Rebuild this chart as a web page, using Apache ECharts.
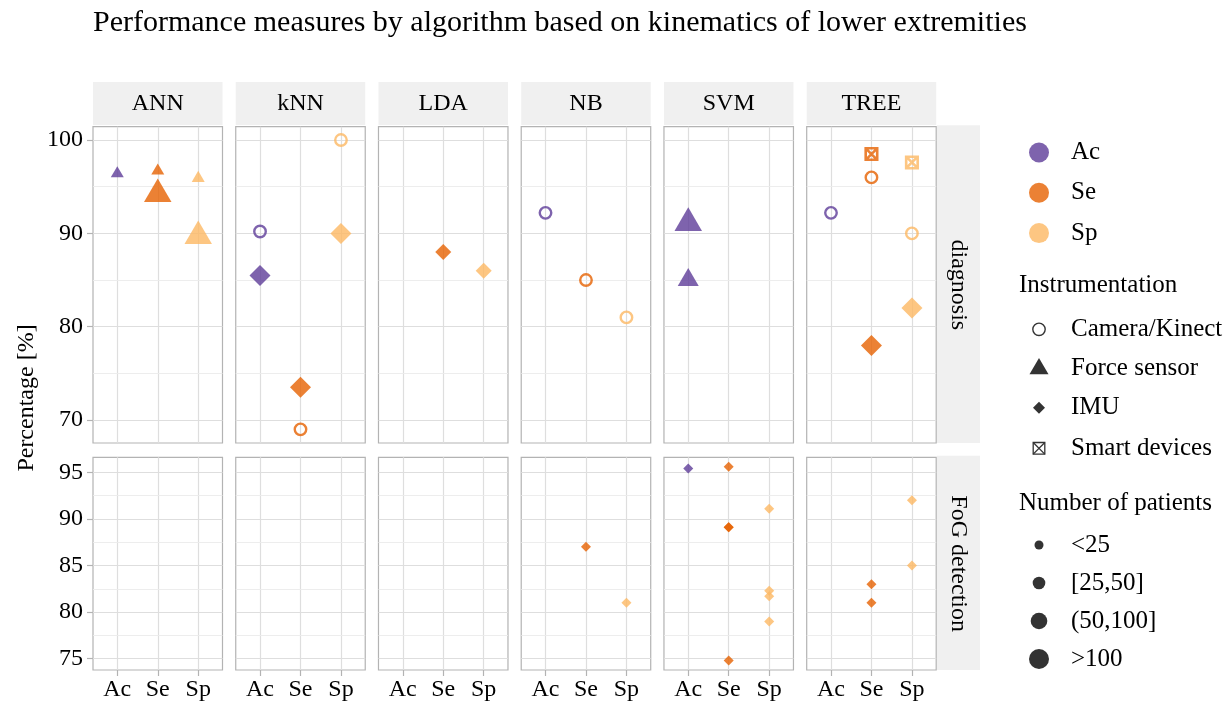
<!DOCTYPE html>
<html>
<head>
<meta charset="utf-8">
<script src="https://cdn.jsdelivr.net/npm/echarts@6/dist/echarts.min.js"></script>
<style>
  html, body { margin: 0; padding: 0; background: #ffffff; }
  #chart { width: 1231px; height: 706px; }
</style>
</head>
<body>
<div id="chart"></div>
<script>
// ---- data -------------------------------------------------------------
const algorithms = ['ANN', 'kNN', 'LDA', 'NB', 'SVM', 'TREE'];
const stages = ['diagnosis', 'FoG detection'];
const measures = ['Ac', 'Se', 'Sp'];
const instruments = ['Camera/Kinect', 'Force sensor', 'IMU', 'Smart devices'];
const patientGroups = ['<25', '[25,50]', '(50,100]', '>100'];

// each row: [measure, percentage, instrumentation, number of patients]
const annDiagnosis = [
  ['Ac', 96.4, 'Force sensor', '<25'],
  ['Se', 96.7, 'Force sensor', '<25'],
  ['Se', 94.2, 'Force sensor', '>100'],
  ['Sp', 95.9, 'Force sensor', '<25'],
  ['Sp', 89.7, 'Force sensor', '>100']
];
const knnDiagnosis = [
  ['Ac', 90.2, 'Camera/Kinect', '[25,50]'],
  ['Ac', 85.5, 'IMU', '>100'],
  ['Se', 73.5, 'IMU', '>100'],
  ['Se', 69.0, 'Camera/Kinect', '[25,50]'],
  ['Sp', 100.0, 'Camera/Kinect', '[25,50]'],
  ['Sp', 90.0, 'IMU', '>100']
];
const ldaDiagnosis = [
  ['Se', 88.0, 'IMU', '(50,100]'],
  ['Sp', 86.0, 'IMU', '(50,100]']
];
const nbDiagnosis = [
  ['Ac', 92.2, 'Camera/Kinect', '[25,50]'],
  ['Se', 85.0, 'Camera/Kinect', '[25,50]'],
  ['Sp', 81.0, 'Camera/Kinect', '[25,50]']
];
const svmDiagnosis = [
  ['Ac', 91.1, 'Force sensor', '>100'],
  ['Ac', 85.0, 'Force sensor', '(50,100]']
];
const treeDiagnosis = [
  ['Ac', 92.2, 'Camera/Kinect', '[25,50]'],
  ['Se', 98.5, 'Smart devices', '[25,50]'],
  ['Se', 96.0, 'Camera/Kinect', '[25,50]'],
  ['Se', 78.0, 'IMU', '>100'],
  ['Sp', 97.6, 'Smart devices', '[25,50]'],
  ['Sp', 90.0, 'Camera/Kinect', '[25,50]'],
  ['Sp', 82.0, 'IMU', '>100']
];
const annFog = [];
const knnFog = [];
const ldaFog = [];
const nbFog = [
  ['Se', 87.0, 'IMU', '<25'],
  ['Sp', 81.0, 'IMU', '<25']
];
const svmFog = [
  ['Ac', 95.4, 'IMU', '<25'],
  ['Se', 95.6, 'IMU', '<25'],
  ['Se', 89.1, 'IMU', '<25'],
  ['Se', 89.1, 'IMU', '<25'],
  ['Se', 74.8, 'IMU', '<25'],
  ['Sp', 91.1, 'IMU', '<25'],
  ['Sp', 82.3, 'IMU', '<25'],
  ['Sp', 81.7, 'IMU', '<25'],
  ['Sp', 79.0, 'IMU', '<25']
];
const treeFog = [
  ['Se', 83.0, 'IMU', '<25'],
  ['Se', 81.0, 'IMU', '<25'],
  ['Sp', 92.0, 'IMU', '<25'],
  ['Sp', 85.0, 'IMU', '<25']
];

// y axis breaks per facet row
const diagnosisTicks = [70, 80, 90, 100];
const diagnosisMinorTicks = [75, 85, 95];
const fogTicks = [75, 80, 85, 90, 95];
const fogMinorTicks = [77.5, 82.5, 87.5, 92.5];

const facetData = {
  diagnosis: [annDiagnosis, knnDiagnosis, ldaDiagnosis, nbDiagnosis, svmDiagnosis, treeDiagnosis],
  'FoG detection': [annFog, knnFog, ldaFog, nbFog, svmFog, treeFog]
};

// ---- styling ----------------------------------------------------------
const FONT = '"Liberation Serif", "Times New Roman", serif';
const measureColors = { Ac: '#5E3C99', Se: '#E66101', Sp: '#FDB863' };
const POINT_ALPHA = 0.8;
const KEY_GREY = '#333333';

// symbol sizes (px) by patient group
const circleSizes = [8, 11.5, 15, 18.5];
const triangleWidths = [13, 17, 21, 27.5];
const diamondSizes = [10, 13, 16, 21];
const boxSizes = [8.5, 11.5, 14, 17];
const BOX_X = 'path://M0 0H10V10H0Z M0 0L10 10 M10 0L0 10';

// panel layout
const PANEL_LEFT = 93, PANEL_STEP = 142.74, PANEL_W = 129.5;
const rows = [
  { top: 126.7, height: 316.3, min: 67.54, max: 101.43, ticks: diagnosisTicks, minor: diagnosisMinorTicks },
  { top: 457.3, height: 212.7, min: 73.79, max: 96.61, ticks: fogTicks, minor: fogMinorTicks }
];
const X_MIN = 0.4, X_MAX = 3.6;   // discrete axis with 0.6 padding on each side

function markStyle(measure, instr, group) {
  const k = patientGroups.indexOf(group);
  const c = measureColors[measure];
  if (instr === 'Camera/Kinect') {
    return { symbol: 'circle', symbolSize: circleSizes[k],
      itemStyle: { color: 'rgba(255,255,255,0)', borderColor: c, borderWidth: 2.4, opacity: POINT_ALPHA } };
  }
  if (instr === 'Force sensor') {
    const w = triangleWidths[k], h = w * 0.86;
    return { symbol: 'triangle', symbolSize: [w, h], symbolOffset: [0, -h / 6],
      itemStyle: { color: c, opacity: POINT_ALPHA } };
  }
  if (instr === 'IMU') {
    return { symbol: 'diamond', symbolSize: diamondSizes[k],
      itemStyle: { color: c, opacity: POINT_ALPHA } };
  }
  return { symbol: BOX_X, symbolSize: boxSizes[k],
    itemStyle: { color: 'rgba(255,255,255,0)', borderColor: c, borderWidth: 2.6, opacity: POINT_ALPHA } };
}

const grids = [], xAxes = [], yAxes = [], series = [], graphics = [];
const majorLine = { color: '#DEDEDE', width: 1.2, type: 'solid' };
const minorLine = { color: '#EBEBEB', width: 0.9, type: 'solid' };

stages.forEach((stage, r) => {
  const row = rows[r];
  algorithms.forEach((alg, c) => {
    const idx = grids.length;
    const left = PANEL_LEFT + c * PANEL_STEP;
    grids.push({ left: left, top: row.top, width: PANEL_W, height: row.height,
      show: true, borderColor: '#B3B3B3', borderWidth: 1.2, backgroundColor: 'transparent' });
    const bottomRow = r === stages.length - 1;
    xAxes.push({
      type: 'value', gridIndex: idx, min: X_MIN, max: X_MAX,
      axisLine: { show: false }, splitLine: { show: false },
      axisTick: { show: bottomRow, customValues: [1, 2, 3], length: 6, lineStyle: { color: '#B3B3B3', width: 1.2 } },
      axisLabel: { show: bottomRow, customValues: [1, 2, 3], margin: 8,
        formatter: v => measures[Math.round(v) - 1] || '',
        color: '#000', fontFamily: FONT, fontSize: 24 }
    });
    yAxes.push({
      type: 'value', gridIndex: idx, min: row.min, max: row.max,
      axisLine: { show: false }, splitLine: { show: false },
      axisTick: { show: c === 0, customValues: row.ticks, length: 6, lineStyle: { color: '#B3B3B3', width: 1.2 } },
      axisLabel: { show: c === 0, customValues: row.ticks, margin: 10,
        color: '#000', fontFamily: FONT, fontSize: 24 }
    });
    // panel grid lines, kept underneath the points
    series.push({
      type: 'scatter', xAxisIndex: idx, yAxisIndex: idx, data: [], z: 1, silent: true,
      markLine: {
        z: 1, silent: true, animation: false, symbol: ['none', 'none'], label: { show: false },
        emphasis: { disabled: true },
        data: [
          ...[1, 2, 3].map(v => ({ xAxis: v, lineStyle: majorLine })),
          ...row.ticks.map(v => ({ yAxis: v, lineStyle: majorLine })),
          ...row.minor.map(v => ({ yAxis: v, lineStyle: minorLine }))
        ]
      }
    });
    // points, one series per measure
    const rowsOfPanel = facetData[stage][c];
    measures.forEach(m => {
      const pts = rowsOfPanel.filter(p => p[0] === m).map(p => Object.assign(
        { value: [measures.indexOf(p[0]) + 1, p[1]] }, markStyle(p[0], p[2], p[3])));
      series.push({ type: 'scatter', name: m, xAxisIndex: idx, yAxisIndex: idx, z: 8,
        data: pts, animation: false, emphasis: { disabled: true } });
    });
  });
});

// facet strips (top)
algorithms.forEach((alg, c) => {
  const left = PANEL_LEFT + c * PANEL_STEP;
  graphics.push({ type: 'rect', shape: { x: left, y: 82, width: PANEL_W, height: 43 },
    style: { fill: '#F0F0F0' }, silent: true });
  graphics.push({ type: 'text', x: left + PANEL_W / 2, y: 104,
    style: { text: alg, fill: '#000', font: '24px ' + FONT, align: 'center', verticalAlign: 'middle' } });
});
// facet strips (right)
stages.forEach((stage, r) => {
  const row = rows[r];
  graphics.push({ type: 'rect', shape: { x: 937, y: row.top - 1.5, width: 43, height: row.height + 1.5 },
    style: { fill: '#F0F0F0' }, silent: true });
  graphics.push({ type: 'text', x: 958.5, y: row.top + row.height / 2, rotation: -Math.PI / 2,
    style: { text: stage, fill: '#000', font: '24px ' + FONT, align: 'center', verticalAlign: 'middle' } });
});

// axis title and main title
graphics.push({ type: 'text', x: 27, y: 398, rotation: Math.PI / 2,
  style: { text: 'Percentage [%]', fill: '#000', font: '24px ' + FONT, align: 'center', verticalAlign: 'middle' } });
graphics.push({ type: 'text', x: 93, y: 23,
  style: { text: 'Performance measures by algorithm based on kinematics of lower extremities',
    fill: '#000', font: '30px ' + FONT, align: 'left', verticalAlign: 'middle' } });

// ---- legend -----------------------------------------------------------
const KEY_X = 1039, TEXT_X = 1071;
function legendText(t, y, x) {
  return { type: 'text', x: x === undefined ? TEXT_X : x, y: y,
    style: { text: t, fill: '#000', font: '25px ' + FONT, align: 'left', verticalAlign: 'middle' } };
}
measures.forEach((m, i) => {
  const y = 152.5 + i * 40.3;
  graphics.push({ type: 'circle', shape: { cx: KEY_X, cy: y, r: 10 },
    style: { fill: measureColors[m], opacity: POINT_ALPHA } });
  graphics.push(legendText(m, y));
});
graphics.push(legendText('Instrumentation', 285, 1019));
const instY = [329.3, 368.5, 407.8, 448.3];
graphics.push({ type: 'circle', shape: { cx: KEY_X, cy: instY[0], r: 6.2 },
  style: { fill: 'none', stroke: KEY_GREY, lineWidth: 1.4 } });
graphics.push({ type: 'polygon', shape: { points: [[KEY_X, instY[1] - 10.5], [KEY_X + 9.5, instY[1] + 5.8], [KEY_X - 9.5, instY[1] + 5.8]] },
  style: { fill: KEY_GREY } });
graphics.push({ type: 'polygon', shape: { points: [[KEY_X, instY[2] - 6], [KEY_X + 6, instY[2]], [KEY_X, instY[2] + 6], [KEY_X - 6, instY[2]]] },
  style: { fill: KEY_GREY } });
graphics.push({ type: 'rect', shape: { x: KEY_X - 5.8, y: instY[3] - 5.8, width: 11.6, height: 11.6 },
  style: { fill: 'none', stroke: KEY_GREY, lineWidth: 1.3 } });
graphics.push({ type: 'line', shape: { x1: KEY_X - 5.8, y1: instY[3] - 5.8, x2: KEY_X + 5.8, y2: instY[3] + 5.8 },
  style: { stroke: KEY_GREY, lineWidth: 1.3 } });
graphics.push({ type: 'line', shape: { x1: KEY_X + 5.8, y1: instY[3] - 5.8, x2: KEY_X - 5.8, y2: instY[3] + 5.8 },
  style: { stroke: KEY_GREY, lineWidth: 1.3 } });
instruments.forEach((t, i) => graphics.push(legendText(t, instY[i])));

graphics.push(legendText('Number of patients', 503, 1019));
const sizeKeyR = [4.5, 6.3, 8.3, 10];
patientGroups.forEach((g, i) => {
  const y = 545 + i * 38;
  graphics.push({ type: 'circle', shape: { cx: KEY_X, cy: y, r: sizeKeyR[i] }, style: { fill: KEY_GREY } });
  graphics.push(legendText(g, y));
});

const chart = echarts.init(document.getElementById('chart'), null, { renderer: 'canvas' });
chart.setOption({
  animation: false,
  backgroundColor: '#ffffff',
  textStyle: { fontFamily: FONT },
  grid: grids,
  xAxis: xAxes,
  yAxis: yAxes,
  series: series,
  graphic: { elements: graphics }
});
</script>
</body>
</html>
